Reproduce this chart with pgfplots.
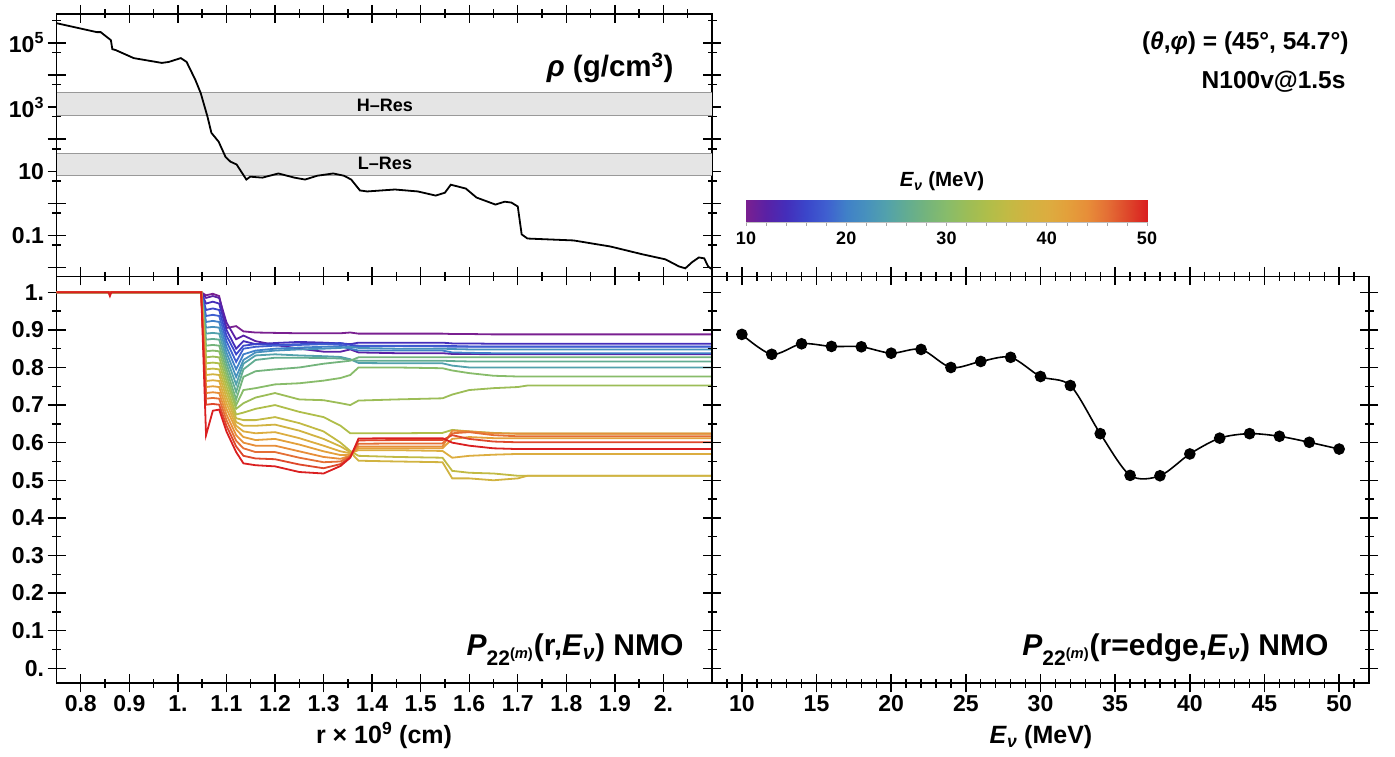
\documentclass[border=0pt]{standalone}
\usepackage{fontspec}
\setmainfont{Liberation Sans}
\usepackage{pgfplots}
\usepackage{pgfplotstable}
\pgfplotsset{compat=1.18}

\definecolor{c10}{RGB}{122,32,144}
\definecolor{c12}{RGB}{90,33,165}
\definecolor{c14}{RGB}{68,46,186}
\definecolor{c16}{RGB}{59,70,202}
\definecolor{c18}{RGB}{63,95,208}
\definecolor{c20}{RGB}{64,128,200}
\definecolor{c22}{RGB}{71,145,189}
\definecolor{c24}{RGB}{82,161,172}
\definecolor{c26}{RGB}{98,172,146}
\definecolor{c28}{RGB}{116,180,124}
\definecolor{c30}{RGB}{136,188,106}
\definecolor{c32}{RGB}{156,189,87}
\definecolor{c34}{RGB}{175,190,74}
\definecolor{c36}{RGB}{194,186,68}
\definecolor{c38}{RGB}{209,179,65}
\definecolor{c40}{RGB}{220,173,64}
\definecolor{c42}{RGB}{227,160,59}
\definecolor{c44}{RGB}{231,142,57}
\definecolor{c46}{RGB}{228,111,53}
\definecolor{c48}{RGB}{222,72,43}
\definecolor{c50}{RGB}{218,31,32}

\pgfplotsset{colormap={rainb}{rgb255=(122,32,144) rgb255=(90,33,165) rgb255=(68,46,186) rgb255=(59,70,202) rgb255=(63,95,208) rgb255=(64,128,200) rgb255=(71,145,189) rgb255=(82,161,172) rgb255=(98,172,146) rgb255=(116,180,124) rgb255=(136,188,106) rgb255=(156,189,87) rgb255=(175,190,74) rgb255=(194,186,68) rgb255=(209,179,65) rgb255=(220,173,64) rgb255=(227,160,59) rgb255=(231,142,57) rgb255=(228,111,53) rgb255=(222,72,43) rgb255=(218,31,32)}}

\newcommand\fs[1]{\fontsize{#1}{#1}\selectfont\bfseries}

\pgfplotstableread{
r e10 e12 e14 e16 e18 e20 e22 e24 e26 e28 e30 e32 e34 e36 e38 e40 e42 e44 e46 e48 e50
0.750 1 1 1 1 1 1 1 1 1 1 1 1 1 1 1 1 1 1 1 1 1
0.857 1 1 1 1 1 1 1 1 1 1 1 1 1 1 1 1 1 1 1 1 1
0.860 1 1 1 1 1 1 1 1 1 1 1 1 1 1 1 1 1 1 1 1 0.99
0.863 1 1 1 1 1 1 1 1 1 1 1 1 1 1 1 1 1 1 1 1 1
1.048 1 1 1 1 1 1 1 1 1 1 1 1 1 1 1 1 1 1 1 1 1
1.058 0.992 0.985 0.970 0.953 0.937 0.921 0.906 0.890 0.874 0.858 0.843 0.827 0.811 0.795 0.780 0.764 0.748 0.732 0.717 0.701 0.620
1.072 0.996 0.990 0.975 0.957 0.940 0.924 0.908 0.892 0.876 0.860 0.845 0.829 0.813 0.797 0.782 0.766 0.750 0.734 0.719 0.703 0.685
1.085 0.990 0.985 0.970 0.953 0.937 0.921 0.906 0.890 0.874 0.858 0.843 0.827 0.811 0.795 0.780 0.764 0.748 0.732 0.717 0.701 0.688
1.100 0.905 0.920 0.900 0.885 0.870 0.855 0.840 0.825 0.810 0.795 0.780 0.765 0.750 0.735 0.720 0.705 0.690 0.675 0.660 0.645 0.630
1.120 0.910 0.875 0.850 0.835 0.815 0.795 0.775 0.755 0.735 0.715 0.700 0.690 0.675 0.665 0.655 0.645 0.635 0.620 0.605 0.590 0.575
1.135 0.896 0.885 0.870 0.858 0.850 0.835 0.820 0.810 0.795 0.775 0.740 0.705 0.680 0.660 0.645 0.630 0.615 0.600 0.585 0.565 0.545
1.160 0.893 0.870 0.862 0.862 0.855 0.845 0.840 0.832 0.820 0.790 0.745 0.720 0.690 0.660 0.645 0.625 0.607 0.592 0.575 0.558 0.540
1.200 0.892 0.860 0.865 0.860 0.858 0.850 0.845 0.835 0.826 0.795 0.755 0.732 0.700 0.668 0.648 0.628 0.610 0.592 0.575 0.556 0.537
1.250 0.891 0.850 0.868 0.862 0.860 0.853 0.848 0.832 0.826 0.800 0.758 0.715 0.682 0.652 0.632 0.612 0.595 0.577 0.560 0.542 0.522
1.300 0.891 0.842 0.866 0.863 0.862 0.855 0.850 0.830 0.825 0.810 0.765 0.713 0.668 0.630 0.610 0.592 0.577 0.562 0.548 0.532 0.518
1.335 0.891 0.842 0.864 0.865 0.860 0.855 0.852 0.828 0.824 0.815 0.772 0.705 0.645 0.600 0.590 0.577 0.567 0.557 0.550 0.543 0.538
1.355 0.893 0.848 0.862 0.860 0.855 0.850 0.855 0.822 0.820 0.818 0.780 0.700 0.625 0.578 0.575 0.572 0.568 0.566 0.565 0.562 0.560
1.372 0.890 0.840 0.866 0.858 0.857 0.845 0.852 0.812 0.818 0.827 0.800 0.712 0.625 0.565 0.552 0.580 0.585 0.590 0.597 0.606 0.611
1.450 0.890 0.838 0.866 0.858 0.857 0.845 0.850 0.811 0.818 0.827 0.800 0.715 0.625 0.562 0.550 0.580 0.585 0.590 0.598 0.607 0.612
1.545 0.890 0.838 0.866 0.858 0.856 0.845 0.850 0.811 0.818 0.827 0.798 0.718 0.626 0.560 0.548 0.578 0.585 0.590 0.598 0.607 0.612
1.565 0.889 0.836 0.864 0.857 0.855 0.840 0.849 0.805 0.817 0.827 0.792 0.728 0.634 0.525 0.505 0.560 0.610 0.632 0.625 0.620 0.600
1.600 0.889 0.836 0.864 0.856 0.855 0.839 0.848 0.800 0.816 0.827 0.785 0.740 0.630 0.520 0.505 0.565 0.615 0.630 0.628 0.610 0.592
1.650 0.888 0.835 0.863 0.856 0.855 0.838 0.848 0.800 0.816 0.827 0.778 0.745 0.626 0.518 0.500 0.568 0.612 0.625 0.620 0.603 0.585
1.700 0.888 0.835 0.863 0.856 0.855 0.838 0.848 0.800 0.816 0.827 0.776 0.748 0.624 0.512 0.505 0.570 0.612 0.624 0.617 0.601 0.583
1.720 0.888 0.835 0.863 0.856 0.855 0.838 0.848 0.800 0.816 0.827 0.776 0.752 0.624 0.512 0.512 0.570 0.612 0.624 0.617 0.601 0.583
2.100 0.888 0.835 0.863 0.856 0.855 0.838 0.848 0.800 0.816 0.827 0.776 0.752 0.624 0.512 0.512 0.570 0.612 0.624 0.617 0.601 0.583
}\Ptab

\pgfplotstableread{
r rho
0.750 4.17e5
0.833 2.19e5
0.841 2.19e5
0.862 1.23e5
0.865 6.46e4
0.872 6.03e4
0.909 3.39e4
0.967 2.40e4
0.981 2.57e4
1.006 3.39e4
1.018 2.57e4
1.036 7.08e3
1.047 2.75e3
1.061 501
1.069 158
1.084 83.2
1.098 28.2
1.108 20.0
1.121 16.2
1.141 5.50
1.149 6.76
1.174 6.31
1.207 8.51
1.240 6.31
1.262 5.50
1.287 7.24
1.320 8.51
1.342 7.24
1.357 5.50
1.375 2.51
1.390 2.34
1.447 2.69
1.494 2.34
1.531 1.74
1.550 2.14
1.562 3.80
1.593 2.88
1.615 1.51
1.654 0.912
1.673 1.12
1.687 1.05
1.700 0.794
1.708 0.107
1.720 0.0794
1.815 0.0692
1.891 0.0447
1.956 0.0257
2.004 0.0178
2.032 0.0107
2.045 0.00933
2.059 0.0145
2.073 0.0204
2.084 0.0191
2.092 0.0107
2.100 0.0087
}\Rtab

\pgfplotstableread{
E P
10 0.888
12 0.835
14 0.863
16 0.856
18 0.855
20 0.838
22 0.848
24 0.800
26 0.816
28 0.827
30 0.776
32 0.752
34 0.624
36 0.513
38 0.512
40 0.570
42 0.612
44 0.624
46 0.617
48 0.601
50 0.583
}\Etab

\pgfplotsset{
  mystyle/.style={
    scale only axis, anchor=south west,
    axis line style={line width=1.6pt},
    major tick style={line width=1.4pt, black},
    minor tick style={line width=1.4pt, black},
    tick align=center, major tick length=18pt, minor tick length=9pt,
    tick label style={font=\fs{23}},
    /pgf/number format/assume math mode=true,
    yticklabel style={anchor=east, xshift=0pt},
    xticklabel style={anchor=north},
  }
}

\begin{document}
\begin{tikzpicture}
\useasboundingbox (0pt,0pt) rectangle (1395pt,757pt);

% density panel
\begin{axis}[mystyle, at={(56.5pt,480.5pt)}, width=655.5pt, height=262.5pt,
  xmin=0.75, xmax=2.1, ymode=log, ymin=0.00519, ymax=8.07e5,
  xtick={0.8,0.9,1.0,1.1,1.2,1.3,1.4,1.5,1.6,1.7,1.8,1.9,2.0}, xticklabels={},
  minor xtick={0.85,0.95,1.05,1.15,1.25,1.35,1.45,1.55,1.65,1.75,1.85,1.95,2.05},
  ytick={0.01,0.1,1,10,100,1000,10000,100000},
  yticklabels={,0.1,,10,,10\textsuperscript{3},,10\textsuperscript{5}},
  minor ytick={0.05,0.5,5,50,500,5000,50000,500000}]
\fill[black!10] (axis cs:0.75,560) rectangle (axis cs:2.1,2850);
\fill[black!10] (axis cs:0.75,7.5) rectangle (axis cs:2.1,37);
\draw[black!40, line width=1pt] (axis cs:0.75,560) -- (axis cs:2.1,560);
\draw[black!40, line width=1pt] (axis cs:0.75,2850) -- (axis cs:2.1,2850);
\draw[black!40, line width=1pt] (axis cs:0.75,7.5) -- (axis cs:2.1,7.5);
\draw[black!40, line width=1pt] (axis cs:0.75,37) -- (axis cs:2.1,37);
\addplot[black, line width=1.8pt, no marks] table[x=r, y=rho] {\Rtab};
\end{axis}

% P(r,E) panel
\begin{axis}[mystyle, at={(56.5pt,73.7pt)}, width=655.5pt, height=406.8pt,
  xmin=0.75, xmax=2.1, ymin=-0.04, ymax=1.042,
  xtick={0.8,0.9,1.0,1.1,1.2,1.3,1.4,1.5,1.6,1.7,1.8,1.9,2.0},
  xticklabels={0.8,0.9,1.,1.1,1.2,1.3,1.4,1.5,1.6,1.7,1.8,1.9,2.},
  minor xtick={0.85,0.95,1.05,1.15,1.25,1.35,1.45,1.55,1.65,1.75,1.85,1.95,2.05},
  ytick={0,0.1,0.2,0.3,0.4,0.5,0.6,0.7,0.8,0.9,1.0},
  yticklabels={0.,0.1,0.2,0.3,0.4,0.5,0.6,0.7,0.8,0.9,1.},
  minor ytick={0.05,0.15,0.25,0.35,0.45,0.55,0.65,0.75,0.85,0.95}]
\pgfplotsinvokeforeach{10,12,...,50}{
  \addplot[draw=c#1, line width=1.8pt, no marks] table[x=r, y=e#1] {\Ptab};
}
\end{axis}

% P(edge,E) panel
\begin{axis}[mystyle, at={(712pt,73.7pt)}, width=657pt, height=406.8pt,
  xmin=8, xmax=52, ymin=-0.04, ymax=1.042,
  xtick={10,15,20,25,30,35,40,45,50},
  minor xtick={9,11,12,13,14,16,17,18,19,21,22,23,24,26,27,28,29,31,32,33,34,36,37,38,39,41,42,43,44,46,47,48,49,51},
  ytick={0,0.1,0.2,0.3,0.4,0.5,0.6,0.7,0.8,0.9,1.0}, yticklabels={},
  minor ytick={0.05,0.15,0.25,0.35,0.45,0.55,0.65,0.75,0.85,0.95}]
\addplot[black, line width=1.6pt, smooth, mark=*, mark size=5pt, mark options={fill=black}] table[x=E, y=P] {\Etab};
\end{axis}

% colorbar
\begin{axis}[at={(746pt,535pt)}, anchor=south west, scale only axis, width=401pt, height=22pt,
  xmin=10, xmax=50, ymin=0, ymax=1, colormap name=rainb,
  xtick={10,20,30,40,50}, minor xtick={12,14,16,18,22,24,26,28,32,34,36,38,42,44,46,48},
  ytick=\empty, xtick pos=bottom, tick align=outside,
  major tick length=4pt, minor tick length=4pt,
  major tick style={black!35, line width=0.6pt}, minor tick style={black!35, line width=0.6pt},
  axis line style={black!25, line width=0.6pt},
  tick label style={font=\fs{18}}, xticklabel style={yshift=-2pt},
  /pgf/number format/assume math mode=true]
\addplot[surf, shader=interp, point meta=x, mesh/rows=2] coordinates {
(10,0) (12,0) (14,0) (16,0) (18,0) (20,0) (22,0) (24,0) (26,0) (28,0) (30,0) (32,0) (34,0) (36,0) (38,0) (40,0) (42,0) (44,0) (46,0) (48,0) (50,0)
(10,1) (12,1) (14,1) (16,1) (18,1) (20,1) (22,1) (24,1) (26,1) (28,1) (30,1) (32,1) (34,1) (36,1) (38,1) (40,1) (42,1) (44,1) (46,1) (48,1) (50,1)};
\end{axis}

% texts
\node[anchor=base, font=\fs{20.5}] at (942pt,570pt) {\textit{E}\textsubscript{\textit{ν}} (MeV)};
\node[anchor=base east, font=\fs{24.5}] at (1352pt,707pt) {(\textit{θ},\textit{φ}) = (45°, 54.7°)};
\node[anchor=base east, font=\fs{24.5}] at (1349pt,668pt) {N100v@1.5s};
\node[anchor=base east, font=\fs{29.5}] at (677pt,680pt) {\textit{ρ} (g/cm\textsuperscript{3})};
\node[anchor=base, font=\fs{18}] at (385pt,645pt) {H–Res};
\node[anchor=base, font=\fs{18}] at (385pt,587pt) {L–Res};
\node[anchor=base east, font=\fs{30}] at (687pt,101pt) {\textit{P}\textsubscript{22\textsuperscript{(\textit{m})}}(r,\textit{E}\textsubscript{\textit{ν}}) NMO};
\node[anchor=base east, font=\fs{30}] at (1332pt,101pt) {\textit{P}\textsubscript{22\textsuperscript{(\textit{m})}}(r=edge,\textit{E}\textsubscript{\textit{ν}}) NMO};
\node[anchor=base, font=\fs{25}] at (384pt,13pt) {r × 10\textsuperscript{9} (cm)};
\node[anchor=base, font=\fs{25}] at (1041pt,13pt) {\textit{E}\textsubscript{\textit{ν}} (MeV)};
\end{tikzpicture}
\end{document}
